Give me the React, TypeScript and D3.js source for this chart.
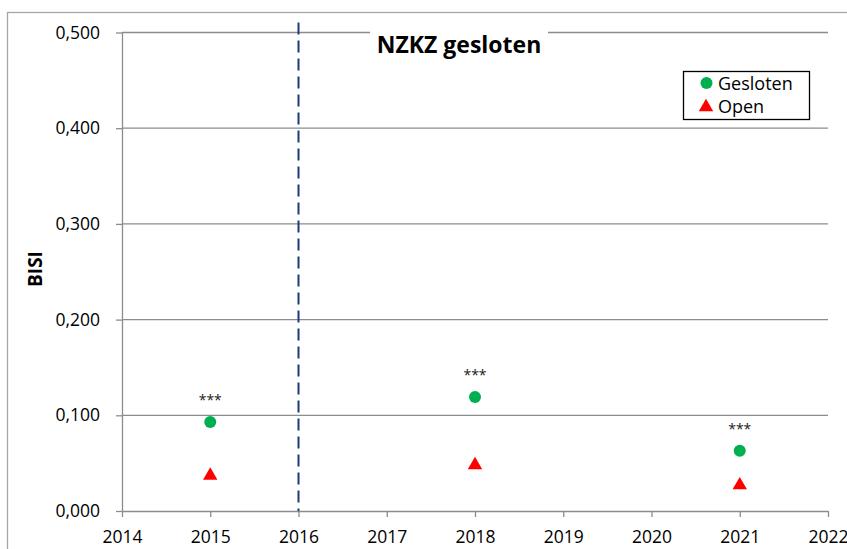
import React, { useEffect, useRef } from 'react';
import * as d3 from 'd3';

// BISI per jaar, gesloten vs open gebied
const years = [2015, 2018, 2021];
const gesloten = [0.093, 0.119, 0.063];
const open = [0.038, 0.049, 0.028];
const significance = ['***', '***', '***'];

const xTicks = [2014, 2015, 2016, 2017, 2018, 2019, 2020, 2021, 2022];
const yTicks = [0, 0.1, 0.2, 0.3, 0.4, 0.5];
const closureYear = 2016;
const chartTitle = 'NZKZ gesloten';
const yLabel = 'BISI';
const legendLabels = ['Gesloten', 'Open'];

const W = 847;
const H = 549;
const margin = { top: 32.5, right: 19, bottom: 38, left: 122 };
const FONT = "'Open Sans', sans-serif";
const GREEN = '#00b050';
const RED = '#ff0000';
const GRID = '#8c8c8c';

const nl = d3.formatLocale({ decimal: ',', thousands: '.', grouping: [3], currency: ['€', ''] });
const fmt = nl.format('.3f');

function App() {
  const svgRef = useRef<SVGSVGElement>(null);

  useEffect(() => {
    const svg = d3.select(svgRef.current);
    svg.selectAll('*').remove();

    const innerW = W - margin.left - margin.right;
    const innerH = H - margin.top - margin.bottom;

    const x = d3.scaleLinear().domain([2014, 2022]).range([0, innerW]);
    const y = d3.scaleLinear().domain([0, 0.5]).range([innerH, 0]);

    // outer frame
    svg
      .append('rect')
      .attr('x', 7.5)
      .attr('y', 12.5)
      .attr('width', W + 20)
      .attr('height', H + 20)
      .attr('fill', 'none')
      .attr('stroke', '#a6a6a6')
      .attr('stroke-width', 1.3);

    const g = svg.append('g').attr('transform', `translate(${margin.left},${margin.top})`);

    // gridlines
    g.append('g')
      .selectAll('line')
      .data(yTicks.filter(d => d > 0))
      .join('line')
      .attr('x1', 0)
      .attr('x2', innerW)
      .attr('y1', d => y(d))
      .attr('y2', d => y(d))
      .attr('stroke', GRID)
      .attr('stroke-width', 1.3);

    const yAxis = d3
      .axisLeft(y)
      .tickValues(yTicks)
      .tickSize(6)
      .tickSizeOuter(0)
      .tickPadding(16)
      .tickFormat(d => fmt(d as number));
    const yg = g.append('g').call(yAxis);

    const xAxis = d3
      .axisBottom(x)
      .tickValues(xTicks)
      .tickSize(6)
      .tickSizeOuter(0)
      .tickPadding(14)
      .tickFormat(d3.format('d'));
    const xg = g.append('g').attr('transform', `translate(0,${innerH})`).call(xAxis);

    [yg, xg].forEach(ax => {
      ax.select('.domain').attr('stroke', GRID).attr('stroke-width', 1.3);
      ax.selectAll('.tick line').attr('stroke', GRID).attr('stroke-width', 1.3);
      ax.selectAll('.tick text')
        .attr('fill', '#000')
        .style('font-family', FONT)
        .style('font-size', '17.5px');
    });

    // title with white backing over the top gridline
    const tx = 337;
    g.append('rect')
      .attr('x', tx - 89)
      .attr('y', -10)
      .attr('width', 178)
      .attr('height', 40)
      .attr('fill', '#fff');
    g.append('text')
      .attr('x', tx)
      .attr('y', 20.8)
      .attr('text-anchor', 'middle')
      .style('font-family', FONT)
      .style('font-weight', 700)
      .style('font-size', '23px')
      .text(chartTitle);

    // closure year
    g.append('line')
      .attr('x1', x(closureYear))
      .attr('x2', x(closureYear))
      .attr('y1', y(0.5) - 10)
      .attr('y2', y(0))
      .attr('stroke', '#1f3a78')
      .attr('stroke-width', 2)
      .attr('stroke-dasharray', '12,6');

    // series
    g.append('g')
      .selectAll('circle')
      .data(gesloten)
      .join('circle')
      .attr('cx', (d, i) => x(years[i]))
      .attr('cy', d => y(d))
      .attr('r', 6)
      .attr('fill', GREEN);

    const tri = d3.symbol().type(d3.symbolTriangle).size(90);
    g.append('g')
      .selectAll('path')
      .data(open)
      .join('path')
      .attr('d', tri)
      .attr('transform', (d, i) => `translate(${x(years[i])},${y(d) + 1})`)
      .attr('fill', RED);

    g.append('g')
      .selectAll('text')
      .data(gesloten)
      .join('text')
      .attr('x', (d, i) => x(years[i]))
      .attr('y', d => y(d) - 17)
      .attr('text-anchor', 'middle')
      .attr('fill', '#222')
      .style('font-family', FONT)
      .style('font-size', '14px')
      .text((d, i) => significance[i]);

    // legend
    const lg = svg.append('g').attr('transform', 'translate(683,71)');
    lg.append('rect')
      .attr('x', 0.5)
      .attr('y', 0.5)
      .attr('width', 126)
      .attr('height', 48)
      .attr('fill', '#fff')
      .attr('stroke', '#000')
      .attr('stroke-width', 1.3);
    lg.append('circle').attr('cx', 23.5).attr('cy', 12).attr('r', 6).attr('fill', GREEN);
    lg.append('path').attr('d', tri).attr('transform', 'translate(23,36)').attr('fill', RED);
    lg.selectAll('text.lbl')
      .data(legendLabels)
      .join('text')
      .attr('class', 'lbl')
      .attr('x', 35)
      .attr('y', (d, i) => 19 + i * 23)
      .style('font-family', FONT)
      .style('font-size', '18px')
      .text(d => d);

    // y-axis title
    svg
      .append('text')
      .attr('transform', 'translate(42,269) rotate(-90)')
      .attr('text-anchor', 'middle')
      .style('font-family', FONT)
      .style('font-weight', 700)
      .style('font-size', '19px')
      .text(yLabel);
  }, []);

  return (
    <svg
      ref={svgRef}
      width={W}
      height={H}
      style={{ position: 'absolute', left: 0, top: 0, background: '#fff', display: 'block' }}
    />
  );
}

export default App;
